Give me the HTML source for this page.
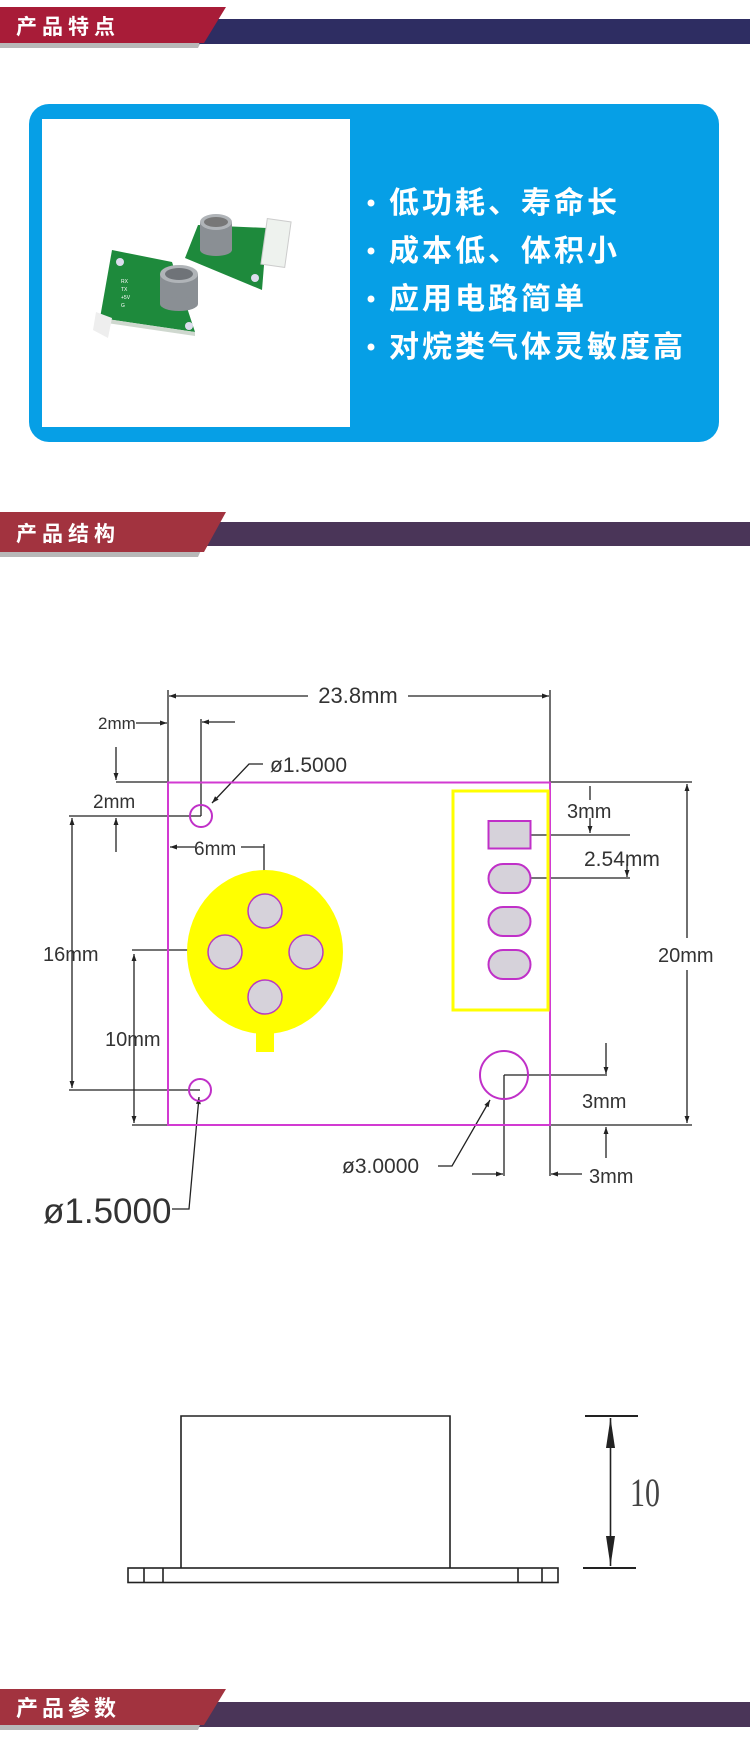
<!DOCTYPE html>
<html><head><meta charset="utf-8"><style>
html,body{margin:0;padding:0;background:#fff;}
body{width:750px;height:1756px;overflow:hidden;position:relative;font-family:"Liberation Sans","Noto Sans CJK SC",sans-serif;}
svg{position:absolute;left:0;top:0;}
</style></head><body>
<svg width="750" height="1756" viewBox="0 0 750 1756" xmlns="http://www.w3.org/2000/svg">
<defs>
<marker id="a" viewBox="0 0 10 10" refX="10" refY="5" markerWidth="9" markerHeight="7" orient="auto-start-reverse" markerUnits="userSpaceOnUse"><path d="M0,1.5 L10,5 L0,8.5z" fill="#222"/></marker>
</defs>
<!-- Header 1 -->
<polygon points="0,48 198,48 215,14 0,14" fill="#b8b8b8"/>
<polygon points="211,19 750,19 750,44 199,44" fill="#2e2d62"/>
<polygon points="0,7 226,7 204,43 0,43" fill="#a81c38"/>
<text x="16" y="34" font-family="Liberation Sans,Noto Sans CJK SC,sans-serif" font-size="21" font-weight="bold" fill="#fff" letter-spacing="5">产品特点</text>
<!-- Blue box -->
<rect x="29" y="104" width="690" height="338" rx="20" fill="#069fe6"/>
<rect x="42" y="119" width="308" height="308" fill="#fff"/>
<!-- sensor photo -->
<polygon points="198,225 267,228 262,290 185,258" fill="#1e8a3c"/>
<polygon points="112,250 172,262 195,332 100,318" fill="#1e8a3c"/>
<polygon points="100,318 195,332 195,336 100,322" fill="#cfd8cf"/>
<polygon points="96,312 112,318 108,338 93,330" fill="#eee"/>
<rect x="264" y="220" width="24" height="46" fill="#eef2ee" stroke="#ccc" transform="rotate(8 276 243)"/>
<rect x="200" y="222" width="32" height="28" fill="#8a8f94"/>
<ellipse cx="216" cy="222" rx="16" ry="8" fill="#b0b4b8"/><ellipse cx="216" cy="222" rx="12" ry="5" fill="#777"/>
<ellipse cx="216" cy="250" rx="16" ry="6" fill="#8a8f94"/>
<rect x="160" y="274" width="38" height="30" fill="#8a8f94"/>
<ellipse cx="179" cy="274" rx="19" ry="9" fill="#b0b4b8"/><ellipse cx="179" cy="274" rx="14" ry="6" fill="#6f7378"/>
<ellipse cx="179" cy="304" rx="19" ry="7" fill="#8a8f94"/>
<circle cx="120" cy="262" r="4" fill="#dde"/><circle cx="189" cy="326" r="4" fill="#dde"/><circle cx="255" cy="278" r="4" fill="#dde"/>
<g fill="#fff" font-size="5"><text x="121" y="283">RX</text><text x="121" y="291">TX</text><text x="121" y="299">+5V</text><text x="121" y="307">G</text></g>
<!-- bullets -->
<g fill="#fff" font-family="Liberation Sans,Noto Sans CJK SC,sans-serif" font-size="30" font-weight="bold" letter-spacing="3">
<circle cx="371" cy="203" r="3.5"/><circle cx="371" cy="251" r="3.5"/><circle cx="371" cy="299" r="3.5"/><circle cx="371" cy="347" r="3.5"/>
<text x="389" y="213">低功耗、寿命长</text>
<text x="389" y="261">成本低、体积小</text>
<text x="389" y="309">应用电路简单</text>
<text x="389" y="357">对烷类气体灵敏度高</text>
</g>
<!-- Header 2 -->
<polygon points="0,557 198,557 215,520 0,520" fill="#b8b8b8"/>
<polygon points="211,522 750,522 750,546 199,546" fill="#4a3558"/>
<polygon points="0,512 226,512 204,552 0,552" fill="#a2333f"/>
<text x="16" y="541" font-size="21" font-weight="bold" fill="#fff" letter-spacing="5" font-family="Liberation Sans,Noto Sans CJK SC,sans-serif">产品结构</text>
<!-- Diagram -->
<g stroke="#222" stroke-width="1.3" fill="none">
<line x1="168" y1="690" x2="168" y2="782"/><line x1="550" y1="690" x2="550" y2="782"/>
<line x1="169" y1="696" x2="308" y2="696" marker-start="url(#a)"/><line x1="408" y1="696" x2="549" y2="696" marker-end="url(#a)"/>
<line x1="136" y1="723" x2="167" y2="723" marker-end="url(#a)"/>
<line x1="201" y1="719" x2="201" y2="816"/><line x1="235" y1="722" x2="202" y2="722" marker-end="url(#a)"/>
<line x1="116" y1="747" x2="116" y2="780" marker-end="url(#a)"/>
<line x1="116" y1="782" x2="168" y2="782"/>
<line x1="69" y1="816" x2="201" y2="816"/>
<line x1="116" y1="852" x2="116" y2="818" marker-end="url(#a)"/>
<polyline points="263,764 249,764 212,803" marker-end="url(#a)"/>
<line x1="170" y1="847" x2="195" y2="847" marker-start="url(#a)"/><line x1="241" y1="847" x2="264" y2="847"/>
<polyline points="264,844 264,950 132,950"/>
<line x1="72" y1="818" x2="72" y2="1088" marker-start="url(#a)" marker-end="url(#a)"/>
<line x1="69" y1="1090" x2="200" y2="1090"/>
<line x1="134" y1="954" x2="134" y2="1123" marker-start="url(#a)" marker-end="url(#a)"/>
<line x1="132" y1="1125" x2="168" y2="1125"/>
<polyline points="172,1209 189,1209 199,1097" marker-end="url(#a)"/>
<line x1="550" y1="782" x2="692" y2="782"/><line x1="550" y1="1125" x2="692" y2="1125"/>
<line x1="687" y1="784" x2="687" y2="938" marker-start="url(#a)"/><line x1="687" y1="970" x2="687" y2="1123" marker-end="url(#a)"/>
<line x1="510" y1="835" x2="630" y2="835"/><line x1="510" y1="878" x2="630" y2="878"/>
<line x1="590" y1="786" x2="590" y2="800"/><line x1="590" y1="818" x2="590" y2="833" marker-end="url(#a)"/>
<line x1="627" y1="864" x2="627" y2="877" marker-end="url(#a)"/>
<line x1="504" y1="1075" x2="504" y2="1176"/><line x1="504" y1="1075" x2="607" y2="1075"/>
<line x1="606" y1="1043" x2="606" y2="1074" marker-end="url(#a)"/>
<line x1="606" y1="1158" x2="606" y2="1127" marker-end="url(#a)"/>
<line x1="550" y1="1125" x2="550" y2="1176"/>
<line x1="472" y1="1174" x2="503" y2="1174" marker-end="url(#a)"/>
<line x1="582" y1="1174" x2="551" y2="1174" marker-end="url(#a)"/>
<polyline points="438,1166 452,1166 490,1100" marker-end="url(#a)"/>
</g>
<!-- board -->
<rect x="168" y="782.5" width="382" height="342.5" fill="none" stroke="#d23ad2" stroke-width="2"/>
<ellipse cx="265" cy="952" rx="78" ry="82" fill="#ffff00"/>
<rect x="256" y="1020" width="18" height="32" fill="#ffff00"/>
<g fill="#d6d2da" stroke="#b83cc0" stroke-width="1.5">
<circle cx="265" cy="911" r="17"/><circle cx="225" cy="952" r="17"/><circle cx="306" cy="952" r="17"/><circle cx="265" cy="997" r="17"/>
</g>
<rect x="453" y="791" width="95" height="219" fill="none" stroke="#ffff00" stroke-width="3"/>
<g fill="#d6d2da" stroke="#c030c8" stroke-width="2">
<rect x="488.5" y="821" width="42" height="27.5"/>
<rect x="488.5" y="864" width="42" height="29" rx="14.5"/>
<rect x="488.5" y="907" width="42" height="29" rx="14.5"/>
<rect x="488.5" y="950" width="42" height="29" rx="14.5"/>
</g>
<g fill="none" stroke="#c030c8" stroke-width="2">
<circle cx="201" cy="816" r="11"/><circle cx="200" cy="1090" r="11"/><circle cx="504" cy="1075" r="24"/>
</g>
<g fill="#333" font-family="Liberation Sans,sans-serif" font-size="20">
<text x="358" y="703" text-anchor="middle" font-size="22">23.8mm</text>
<text x="98" y="729" font-size="17">2mm</text>
<text x="93" y="808" font-size="19">2mm</text>
<text x="270" y="772" font-size="21">ø1.5000</text>
<text x="194" y="855" font-size="19">6mm</text>
<text x="43" y="961">16mm</text>
<text x="105" y="1046">10mm</text>
<text x="43" y="1223" font-size="35">ø1.5000</text>
<text x="567" y="818">3mm</text>
<text x="584" y="866" font-size="21">2.54mm</text>
<text x="658" y="962">20mm</text>
<text x="582" y="1108">3mm</text>
<text x="589" y="1183">3mm</text>
<text x="342" y="1173" font-size="21">ø3.0000</text>
</g>
<!-- side view -->
<g stroke="#222" stroke-width="1.6" fill="none">
<polyline points="181,1568 181,1416 450,1416 450,1568"/>
<rect x="128" y="1568" width="430" height="14.5"/>
<line x1="144" y1="1568" x2="144" y2="1582"/><line x1="163" y1="1568" x2="163" y2="1582"/>
<line x1="518" y1="1568" x2="518" y2="1582"/><line x1="542" y1="1568" x2="542" y2="1582"/>
<line x1="585" y1="1416" x2="638" y2="1416" stroke-width="2"/><line x1="583" y1="1568" x2="636" y2="1568" stroke-width="2"/>
<line x1="610.5" y1="1418" x2="610.5" y2="1566"/>
</g>
<polygon points="610.5,1418 606,1448 615,1448" fill="#222"/>
<polygon points="610.5,1566 606,1536 615,1536" fill="#222"/>
<text x="0" y="0" font-family="Liberation Serif,serif" font-size="30" fill="#444" transform="translate(630,1506) scale(1,1.35)">10</text>
<!-- Header 3 -->
<polygon points="0,1730 198,1730 215,1694 0,1694" fill="#b8b8b8"/>
<polygon points="211,1702 750,1702 750,1727 199,1727" fill="#4a3558"/>
<polygon points="0,1689 226,1689 204,1725 0,1725" fill="#a2333f"/>
<text x="16" y="1716" font-size="22" font-weight="bold" fill="#fff" letter-spacing="4" font-family="Liberation Sans,Noto Sans CJK SC,sans-serif">产品参数</text>
</svg>
</body></html>
